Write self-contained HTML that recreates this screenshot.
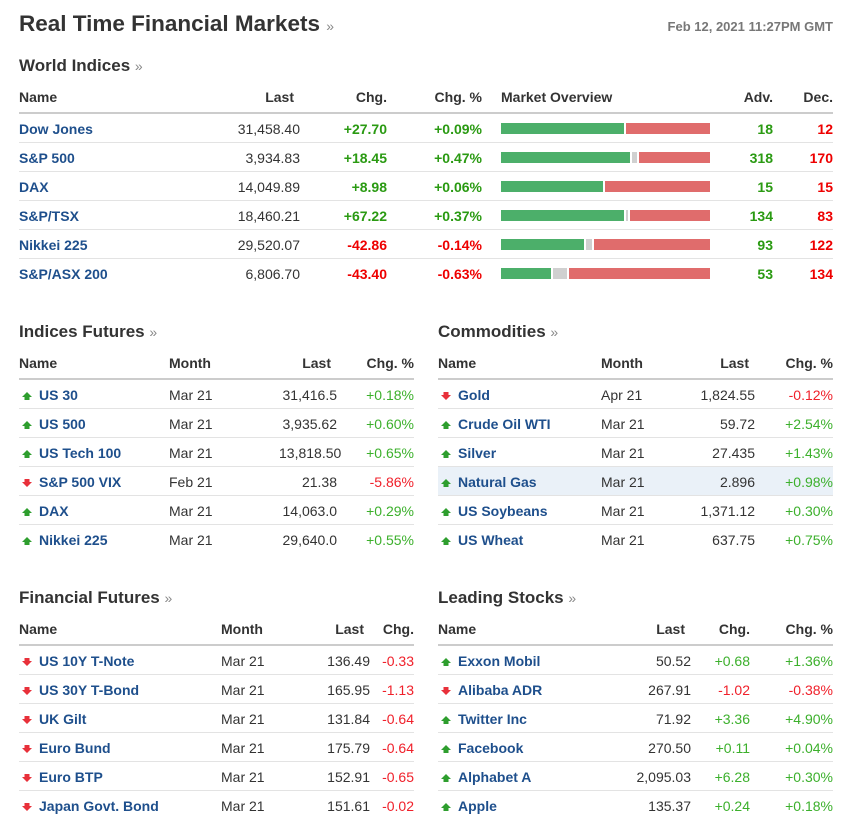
<!DOCTYPE html>
<html><head><meta charset="utf-8"><style>
body{margin:0;width:853px;height:840px;background:#fff;font-family:"Liberation Sans",Arial,sans-serif;color:#333;position:relative;overflow:hidden}
h1{position:absolute;left:19px;top:11px;margin:0;font-size:22.5px;font-weight:bold;color:#333}
h2{position:absolute;margin:0;font-size:17px;font-weight:bold;color:#333}
.r{color:#888;font-size:14px;font-weight:normal}
.date{position:absolute;right:20px;top:19px;font-size:13px;font-weight:bold;color:#777}
table{position:absolute;border-collapse:collapse;table-layout:fixed;font-size:14px}
th{height:30px;font-weight:bold;color:#333;border-bottom:2px solid #ccc;padding:0;vertical-align:middle}
td{height:27px;border-bottom:1px solid #e3e3e3;padding:1px 0 0 0;vertical-align:middle;white-space:nowrap}
.L{text-align:left}.R{text-align:right}
.n{color:#1e4f8c;font-weight:bold}
.gb{color:#2a9a12;font-weight:bold}.rb{color:#e00;font-weight:bold}
.gl{color:#3cb02c}.rl{color:#f0202a}
.bar{height:11px;position:relative;margin-left:19px;width:209px}
.bar i{position:absolute;top:0;height:11px}
.G{background:#4caf6a}.X{background:#d0d0d0}.D{background:#e06c6c}
.ar{display:inline-block;width:10px;margin:0 7px 0 3px;vertical-align:-1px}
tr.hl td{background:#eaf1f8}
</style></head><body>
<h1>Real Time Financial Markets <span class="r">»</span></h1>
<div class="date">Feb 12, 2021 11:27PM GMT</div>

<h2 style="left:19px;top:56px">World Indices <span class="r">»</span></h2>
<table style="left:19px;top:82px;width:814px">
<colgroup><col style="width:200px"><col style="width:81px"><col style="width:87px"><col style="width:95px"><col style="width:251px"><col style="width:40px"><col style="width:60px"></colgroup>
<tr><th class="L">Name</th><th class="R" style="padding-right:6px">Last</th><th class="R">Chg.</th><th class="R">Chg. %</th><th class="L" style="padding-left:19px">Market Overview</th><th class="R">Adv.</th><th class="R">Dec.</th></tr>
<tr><td class="n">Dow Jones</td><td class="R">31,458.40</td><td class="R gb">+27.70</td><td class="R gb">+0.09%</td><td><div class="bar"><i class="G" style="left:0;width:123px"></i><i class="D" style="left:125px;width:84px"></i></div></td><td class="R gb">18</td><td class="R rb">12</td></tr>
<tr><td class="n">S&amp;P 500</td><td class="R">3,934.83</td><td class="R gb">+18.45</td><td class="R gb">+0.47%</td><td><div class="bar"><i class="G" style="left:0;width:129px"></i><i class="X" style="left:131px;width:5px"></i><i class="D" style="left:138px;width:71px"></i></div></td><td class="R gb">318</td><td class="R rb">170</td></tr>
<tr><td class="n">DAX</td><td class="R">14,049.89</td><td class="R gb">+8.98</td><td class="R gb">+0.06%</td><td><div class="bar"><i class="G" style="left:0;width:102px"></i><i class="D" style="left:104px;width:105px"></i></div></td><td class="R gb">15</td><td class="R rb">15</td></tr>
<tr><td class="n">S&amp;P/TSX</td><td class="R">18,460.21</td><td class="R gb">+67.22</td><td class="R gb">+0.37%</td><td><div class="bar"><i class="G" style="left:0;width:123px"></i><i class="X" style="left:125px;width:2px"></i><i class="D" style="left:129px;width:80px"></i></div></td><td class="R gb">134</td><td class="R rb">83</td></tr>
<tr><td class="n">Nikkei 225</td><td class="R">29,520.07</td><td class="R rb">-42.86</td><td class="R rb">-0.14%</td><td><div class="bar"><i class="G" style="left:0;width:83px"></i><i class="X" style="left:85px;width:6px"></i><i class="D" style="left:93px;width:116px"></i></div></td><td class="R gb">93</td><td class="R rb">122</td></tr>
<tr><td class="n" style="border:none">S&amp;P/ASX 200</td><td class="R" style="border:none">6,806.70</td><td class="R rb" style="border:none">-43.40</td><td class="R rb" style="border:none">-0.63%</td><td style="border:none"><div class="bar"><i class="G" style="left:0;width:50px"></i><i class="X" style="left:52px;width:14px"></i><i class="D" style="left:68px;width:141px"></i></div></td><td class="R gb" style="border:none">53</td><td class="R rb" style="border:none">134</td></tr>
</table>

<svg width="0" height="0" style="position:absolute"><defs>
<symbol id="up" viewBox="0 0 10 10"><path d="M5 1L10 6H7.5V9H2.5V6H0Z" fill="#2e9e2e"/></symbol>
<symbol id="dn" viewBox="0 0 10 10"><path d="M5 9L10 4H7.5V1H2.5V4H0Z" fill="#e8303a"/></symbol>
</defs></svg>

<h2 style="left:19px;top:322px">Indices Futures <span class="r">»</span></h2>
<table style="left:19px;top:348px;width:395px">
<colgroup><col style="width:150px"><col style="width:110px"><col style="width:58px"><col style="width:77px"></colgroup>
<tr><th class="L">Name</th><th class="L">Month</th><th class="R" style="padding-right:6px">Last</th><th class="R">Chg. %</th></tr>
<tr><td class="n"><svg class="ar" height="10"><use href="#up"/></svg>US 30</td><td>Mar 21</td><td class="R">31,416.5</td><td class="R gl">+0.18%</td></tr>
<tr><td class="n"><svg class="ar" height="10"><use href="#up"/></svg>US 500</td><td>Mar 21</td><td class="R">3,935.62</td><td class="R gl">+0.60%</td></tr>
<tr><td class="n"><svg class="ar" height="10"><use href="#up"/></svg>US Tech 100</td><td>Mar 21</td><td class="R">13,818.50</td><td class="R gl">+0.65%</td></tr>
<tr><td class="n"><svg class="ar" height="10"><use href="#dn"/></svg>S&amp;P 500 VIX</td><td>Feb 21</td><td class="R">21.38</td><td class="R rl">-5.86%</td></tr>
<tr><td class="n"><svg class="ar" height="10"><use href="#up"/></svg>DAX</td><td>Mar 21</td><td class="R">14,063.0</td><td class="R gl">+0.29%</td></tr>
<tr><td class="n" style="border:none"><svg class="ar" height="10"><use href="#up"/></svg>Nikkei 225</td><td style="border:none">Mar 21</td><td class="R" style="border:none">29,640.0</td><td class="R gl" style="border:none">+0.55%</td></tr>
</table>

<h2 style="left:438px;top:322px">Commodities <span class="r">»</span></h2>
<table style="left:438px;top:348px;width:395px">
<colgroup><col style="width:163px"><col style="width:99px"><col style="width:55px"><col style="width:78px"></colgroup>
<tr><th class="L">Name</th><th class="L">Month</th><th class="R" style="padding-right:6px">Last</th><th class="R">Chg. %</th></tr>
<tr><td class="n"><svg class="ar" height="10"><use href="#dn"/></svg>Gold</td><td>Apr 21</td><td class="R">1,824.55</td><td class="R rl">-0.12%</td></tr>
<tr><td class="n"><svg class="ar" height="10"><use href="#up"/></svg>Crude Oil WTI</td><td>Mar 21</td><td class="R">59.72</td><td class="R gl">+2.54%</td></tr>
<tr><td class="n"><svg class="ar" height="10"><use href="#up"/></svg>Silver</td><td>Mar 21</td><td class="R">27.435</td><td class="R gl">+1.43%</td></tr>
<tr class="hl"><td class="n"><svg class="ar" height="10"><use href="#up"/></svg>Natural Gas</td><td>Mar 21</td><td class="R">2.896</td><td class="R gl">+0.98%</td></tr>
<tr><td class="n"><svg class="ar" height="10"><use href="#up"/></svg>US Soybeans</td><td>Mar 21</td><td class="R">1,371.12</td><td class="R gl">+0.30%</td></tr>
<tr><td class="n" style="border:none"><svg class="ar" height="10"><use href="#up"/></svg>US Wheat</td><td style="border:none">Mar 21</td><td class="R" style="border:none">637.75</td><td class="R gl" style="border:none">+0.75%</td></tr>
</table>

<h2 style="left:19px;top:588px">Financial Futures <span class="r">»</span></h2>
<table style="left:19px;top:614px;width:395px">
<colgroup><col style="width:202px"><col style="width:99px"><col style="width:50px"><col style="width:44px"></colgroup>
<tr><th class="L">Name</th><th class="L">Month</th><th class="R" style="padding-right:6px">Last</th><th class="R">Chg.</th></tr>
<tr><td class="n"><svg class="ar" height="10"><use href="#dn"/></svg>US 10Y T-Note</td><td>Mar 21</td><td class="R">136.49</td><td class="R rl">-0.33</td></tr>
<tr><td class="n"><svg class="ar" height="10"><use href="#dn"/></svg>US 30Y T-Bond</td><td>Mar 21</td><td class="R">165.95</td><td class="R rl">-1.13</td></tr>
<tr><td class="n"><svg class="ar" height="10"><use href="#dn"/></svg>UK Gilt</td><td>Mar 21</td><td class="R">131.84</td><td class="R rl">-0.64</td></tr>
<tr><td class="n"><svg class="ar" height="10"><use href="#dn"/></svg>Euro Bund</td><td>Mar 21</td><td class="R">175.79</td><td class="R rl">-0.64</td></tr>
<tr><td class="n"><svg class="ar" height="10"><use href="#dn"/></svg>Euro BTP</td><td>Mar 21</td><td class="R">152.91</td><td class="R rl">-0.65</td></tr>
<tr><td class="n" style="border:none"><svg class="ar" height="10"><use href="#dn"/></svg>Japan Govt. Bond</td><td style="border:none">Mar 21</td><td class="R" style="border:none">151.61</td><td class="R rl" style="border:none">-0.02</td></tr>
</table>

<h2 style="left:438px;top:588px">Leading Stocks <span class="r">»</span></h2>
<table style="left:438px;top:614px;width:395px">
<colgroup><col style="width:180px"><col style="width:73px"><col style="width:59px"><col style="width:83px"></colgroup>
<tr><th class="L">Name</th><th class="R" style="padding-right:6px">Last</th><th class="R">Chg.</th><th class="R">Chg. %</th></tr>
<tr><td class="n"><svg class="ar" height="10"><use href="#up"/></svg>Exxon Mobil</td><td class="R">50.52</td><td class="R gl">+0.68</td><td class="R gl">+1.36%</td></tr>
<tr><td class="n"><svg class="ar" height="10"><use href="#dn"/></svg>Alibaba ADR</td><td class="R">267.91</td><td class="R rl">-1.02</td><td class="R rl">-0.38%</td></tr>
<tr><td class="n"><svg class="ar" height="10"><use href="#up"/></svg>Twitter Inc</td><td class="R">71.92</td><td class="R gl">+3.36</td><td class="R gl">+4.90%</td></tr>
<tr><td class="n"><svg class="ar" height="10"><use href="#up"/></svg>Facebook</td><td class="R">270.50</td><td class="R gl">+0.11</td><td class="R gl">+0.04%</td></tr>
<tr><td class="n"><svg class="ar" height="10"><use href="#up"/></svg>Alphabet A</td><td class="R">2,095.03</td><td class="R gl">+6.28</td><td class="R gl">+0.30%</td></tr>
<tr><td class="n" style="border:none"><svg class="ar" height="10"><use href="#up"/></svg>Apple</td><td class="R" style="border:none">135.37</td><td class="R gl" style="border:none">+0.24</td><td class="R gl" style="border:none">+0.18%</td></tr>
</table>
</body></html>
